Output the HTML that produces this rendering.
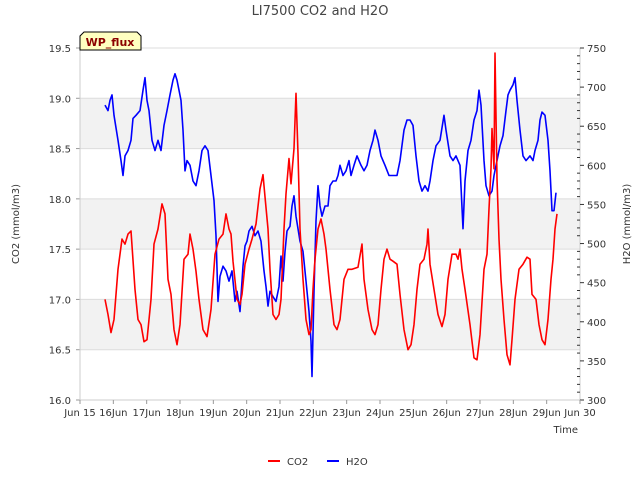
<!DOCTYPE html>
<html><head><meta charset="utf-8"><style>
body{margin:0;background:#fff;font-family:"Liberation Sans","DejaVu Sans",sans-serif}
svg text{font-family:"DejaVu Sans","Liberation Sans",sans-serif}
</style></head><body>
<svg id="c" width="640" height="480" xmlns="http://www.w3.org/2000/svg"></svg>
<script>
const co2Days=[15.75,15.84,15.93,16.02,16.14,16.26,16.35,16.44,16.53,16.65,16.74,16.83,16.92,17.01,17.13,17.22,17.34,17.46,17.55,17.64,17.73,17.82,17.91,18.00,18.12,18.24,18.30,18.39,18.48,18.57,18.69,18.81,18.93,19.05,19.17,19.29,19.38,19.47,19.53,19.59,19.71,19.80,19.86,19.95,20.07,20.16,20.28,20.40,20.49,20.55,20.64,20.70,20.79,20.88,20.97,21.03,21.12,21.18,21.27,21.33,21.42,21.48,21.54,21.60,21.69,21.78,21.87,21.93,21.99,22.05,22.14,22.23,22.32,22.38,22.50,22.62,22.71,22.80,22.92,23.04,23.16,23.34,23.46,23.52,23.64,23.76,23.85,23.94,24.03,24.12,24.21,24.30,24.39,24.51,24.60,24.72,24.84,24.93,25.02,25.11,25.20,25.32,25.41,25.44,25.50,25.62,25.74,25.86,25.95,26.04,26.16,26.28,26.34,26.40,26.46,26.55,26.70,26.82,26.91,27.00,27.12,27.21,27.27,27.33,27.36,27.42,27.45,27.51,27.57,27.63,27.72,27.81,27.90,27.96,28.05,28.17,28.29,28.41,28.50,28.56,28.68,28.77,28.86,28.95,29.04,29.13,29.19,29.25,29.31];
const co2Vals=[17.00,16.85,16.67,16.80,17.30,17.60,17.55,17.65,17.68,17.10,16.80,16.75,16.58,16.60,17.00,17.55,17.70,17.95,17.85,17.20,17.05,16.70,16.55,16.75,17.40,17.45,17.65,17.50,17.28,17.00,16.70,16.63,16.90,17.45,17.60,17.65,17.85,17.70,17.65,17.38,17.00,16.95,17.05,17.35,17.50,17.60,17.75,18.10,18.24,18.02,17.70,17.30,16.85,16.80,16.85,17.00,17.70,18.05,18.40,18.15,18.50,19.05,18.45,17.70,17.20,16.80,16.65,16.70,17.10,17.40,17.70,17.80,17.65,17.50,17.10,16.75,16.70,16.80,17.20,17.30,17.30,17.32,17.55,17.20,16.90,16.70,16.65,16.75,17.10,17.40,17.50,17.40,17.38,17.35,17.05,16.70,16.50,16.55,16.75,17.10,17.35,17.40,17.55,17.70,17.35,17.10,16.85,16.73,16.85,17.20,17.45,17.45,17.40,17.50,17.30,17.10,16.75,16.42,16.40,16.65,17.30,17.45,17.90,18.30,18.70,18.30,19.45,18.20,17.60,17.20,16.80,16.45,16.35,16.60,17.00,17.30,17.35,17.42,17.40,17.05,17.00,16.75,16.60,16.55,16.80,17.20,17.40,17.70,17.85];
const h2oDays=[15.75,15.84,15.90,15.96,16.02,16.14,16.23,16.29,16.35,16.44,16.53,16.59,16.68,16.80,16.89,16.95,17.01,17.07,17.16,17.25,17.34,17.43,17.52,17.61,17.70,17.79,17.85,17.91,17.97,18.03,18.09,18.15,18.21,18.30,18.39,18.48,18.57,18.66,18.75,18.84,18.93,19.02,19.08,19.14,19.20,19.29,19.38,19.47,19.56,19.65,19.71,19.80,19.89,19.95,20.01,20.07,20.16,20.25,20.34,20.43,20.52,20.58,20.64,20.70,20.79,20.88,20.97,21.03,21.09,21.15,21.21,21.30,21.36,21.42,21.48,21.60,21.69,21.78,21.87,21.93,21.96,22.02,22.08,22.14,22.20,22.26,22.35,22.44,22.50,22.59,22.68,22.74,22.80,22.89,22.98,23.07,23.13,23.22,23.31,23.43,23.52,23.61,23.70,23.79,23.85,23.94,24.03,24.15,24.27,24.39,24.51,24.60,24.72,24.81,24.90,24.99,25.08,25.17,25.26,25.35,25.44,25.50,25.59,25.68,25.80,25.92,25.98,26.10,26.19,26.28,26.40,26.49,26.55,26.64,26.73,26.82,26.91,26.97,27.03,27.12,27.18,27.27,27.36,27.42,27.51,27.60,27.69,27.78,27.84,27.90,27.99,28.05,28.11,28.20,28.29,28.38,28.50,28.59,28.65,28.74,28.80,28.86,28.95,29.04,29.10,29.16,29.22,29.28];
const h2oVals=[677,670,683,690,664,632,606,587,612,619,632,660,664,670,696,712,683,670,632,619,632,619,651,670,690,709,717,709,696,683,645,593,606,600,580,574,593,619,625,619,587,555,510,426,458,471,465,452,465,426,439,413,471,497,503,516,522,510,516,503,465,445,420,439,432,426,445,484,452,490,516,522,548,561,535,503,490,452,413,375,330,439,529,574,548,535,548,548,574,580,580,587,600,587,593,606,587,600,612,600,593,600,619,632,645,632,612,600,587,587,587,606,645,658,658,651,612,580,567,574,567,580,606,625,632,664,645,612,606,612,600,519,580,619,632,658,670,696,677,606,574,561,567,587,606,625,638,670,690,696,703,712,683,645,612,606,612,606,619,632,658,668,664,632,593,542,542,565];
const xTicks=["Jun 15","16Jun","17Jun","18Jun","19Jun","20Jun","21Jun","22Jun","23Jun","24Jun","25Jun","26Jun","27Jun","28Jun","29Jun","Jun 30"];
const yLeftTicks=["16.0","16.5","17.0","17.5","18.0","18.5","19.0","19.5"];
const yRightTicks=["300","350","400","450","500","550","600","650","700","750"];

const svg=document.getElementById('c');const NS='http://www.w3.org/2000/svg';
const L=80,R=580,T=48,B=400;
const X=d=>L+(d-15)/15*(R-L);
const YL=v=>B-(v-16)/3.5*(B-T);
const YR=v=>B-(v-300)/450*(B-T);
function mk(tag,attrs,txt){const e=document.createElementNS(NS,tag);for(const k in attrs)e.setAttribute(k,attrs[k]);if(txt!==undefined)e.textContent=txt;svg.appendChild(e);return e;}
// bands
for(const b of [16.5,17.5,18.5]){const e=mk('rect',{x:L,y:YL(b+0.5),width:R-L,height:YL(b)-YL(b+0.5),fill:'#f2f2f2'});

}
yLeftTicks.forEach(t=>{const v=+t;const e=mk('line',{x1:L,x2:R,y1:YL(v),y2:YL(v),stroke:'#dcdcdc','stroke-width':1});


const tx=mk('text',{x:L-9,y:YL(v)+4,'text-anchor':'end','font-size':10,fill:'#333'},t);


mk('line',{x1:L-4,x2:L,y1:YL(v),y2:YL(v),stroke:'#999'});});
mk('line',{x1:L,x2:L,y1:T,y2:B,stroke:'#ccc'});
mk('line',{x1:R,x2:R,y1:T,y2:B,stroke:'#ccc'});
mk('line',{x1:L,x2:R,y1:B,y2:B,stroke:'#ccc'});
yRightTicks.forEach(t=>{const v=+t;const tx=mk('text',{x:R+7,y:YR(v)+4,'font-size':10,fill:'#333'},t);


mk('line',{x1:R,x2:R+4,y1:YR(v),y2:YR(v),stroke:'#333'});});
for(let v=310;v<750;v+=10){if(v%50)mk('line',{x1:R-3,x2:R,y1:YR(v),y2:YR(v),stroke:'#333'});}
xTicks.forEach((t,i)=>{const x=X(15+i);mk('line',{x1:x,x2:x,y1:B,y2:B+4,stroke:'#999'});
const tx=mk('text',{x:x,y:B+16,'text-anchor':'middle','font-size':10,fill:'#333'},t);

});
function line(days,vals,yf,col,name){const d=days.map((t,i)=>(i?'L':'M')+X(t).toFixed(1)+','+yf(vals[i]).toFixed(1)).join('');
const p=mk('path',{d:d,fill:'none',stroke:col,'stroke-width':1.6,'stroke-linejoin':'round'});

}
line(h2oDays,h2oVals,YR,'#0000ff','h2o-line');
line(co2Days,co2Vals,YL,'#ff0000','co2-line');
</script>
<svg width="640" height="480" style="position:absolute;left:0;top:0" xmlns="http://www.w3.org/2000/svg">
<text x="320" y="15" text-anchor="middle" font-size="13" fill="#444">LI7500 CO2 and H2O</text>
<text transform="translate(19,224) rotate(-90)" text-anchor="middle" font-size="10" fill="#333">CO2 (mmol/m3)</text>
<text transform="translate(630,224) rotate(-90)" text-anchor="middle" font-size="10" fill="#333">H2O (mmol/m3)</text>
<text x="578" y="433" text-anchor="end" font-size="10" fill="#333">Time</text>
<g><path d="M80,50 L80,36 L84,32 L137,32 L141,36 L141,50 Z" fill="#ffffc0" stroke="#000"/>
<text x="110" y="46" text-anchor="middle" font-size="11" font-weight="bold" fill="#8b0000">WP_flux</text></g>
<g><line x1="268" x2="280" y1="461" y2="461" stroke="#ff0000" stroke-width="2"/><text x="287" y="465" font-size="10" fill="#333">CO2</text></g>
<g><line x1="327" x2="339" y1="461" y2="461" stroke="#0000ff" stroke-width="2"/><text x="346" y="465" font-size="10" fill="#333">H2O</text></g>
</svg>
</body></html>
